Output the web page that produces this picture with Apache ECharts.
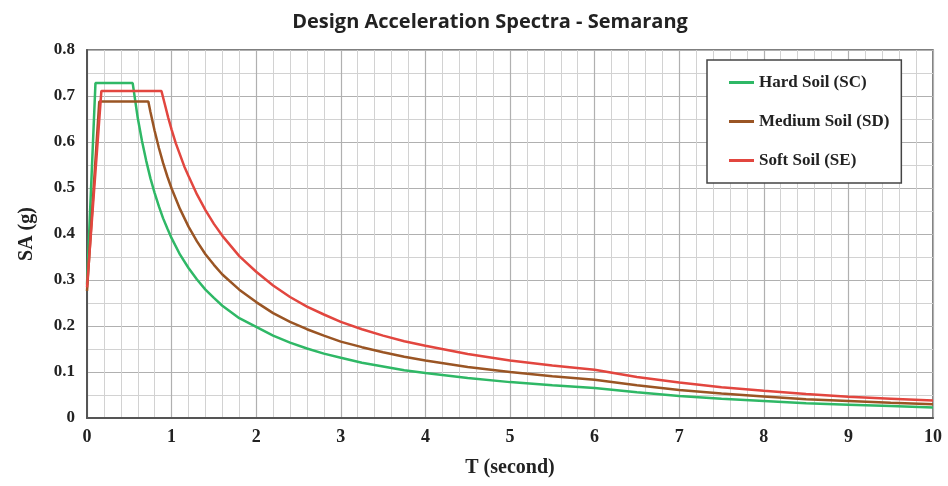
<!DOCTYPE html>
<html>
<head>
<meta charset="utf-8">
<script src="https://cdn.jsdelivr.net/npm/echarts@6/dist/echarts.min.js"></script>
<style>html,body{margin:0;padding:0;background:#fff}#c{width:948px;height:486px}</style>
</head>
<body>
<div id="c"></div>
<script>
var titleText = 'Design Acceleration Spectra - Semarang';
var xName = 'T (second)';
var yName = 'SA (g)';
var seriesNames = ['Hard Soil (SC)', 'Medium Soil (SD)', 'Soft Soil (SE)'];
var seriesColors = ['#2fb866', '#9a5524', '#e2463f'];

var tHard = [0, 0.1, 0.54, 0.6, 0.65, 0.7, 0.75, 0.8, 0.85, 0.9, 0.95, 1.0, 1.1, 1.2, 1.3, 1.4, 1.5, 1.6, 1.8, 2.0, 2.2, 2.4, 2.6, 2.8, 3.0, 3.25, 3.5, 3.75, 4.0, 4.5, 5.0, 5.5, 6.0, 6.5, 7.0, 7.5, 8.0, 8.5, 9.0, 9.5, 10];
var saHard = [0.29, 0.728, 0.728, 0.652, 0.602, 0.559, 0.521, 0.489, 0.460, 0.434, 0.412, 0.391, 0.355, 0.326, 0.301, 0.279, 0.261, 0.244, 0.217, 0.198, 0.179, 0.164, 0.151, 0.140, 0.131, 0.120, 0.112, 0.104, 0.098, 0.087, 0.078, 0.071, 0.065, 0.056, 0.048, 0.042, 0.037, 0.032, 0.029, 0.026, 0.023];

var tMed = [0, 0.145, 0.725, 0.75, 0.8, 0.85, 0.9, 0.95, 1.0, 1.1, 1.2, 1.3, 1.4, 1.5, 1.6, 1.8, 2.0, 2.2, 2.4, 2.6, 2.8, 3.0, 3.25, 3.5, 3.75, 4.0, 4.5, 5.0, 5.5, 6.0, 6.5, 7.0, 7.5, 8.0, 8.5, 9.0, 9.5, 10];
var saMed = [0.276, 0.688, 0.688, 0.665, 0.624, 0.587, 0.554, 0.525, 0.499, 0.454, 0.416, 0.384, 0.356, 0.333, 0.312, 0.279, 0.252, 0.228, 0.209, 0.193, 0.179, 0.166, 0.154, 0.143, 0.133, 0.125, 0.111, 0.100, 0.091, 0.083, 0.071, 0.061, 0.053, 0.047, 0.041, 0.037, 0.033, 0.030];

var tSoft = [0, 0.17, 0.88, 0.92, 0.96, 1.0, 1.05, 1.1, 1.15, 1.2, 1.3, 1.4, 1.5, 1.6, 1.8, 2.0, 2.2, 2.4, 2.6, 2.8, 3.0, 3.25, 3.5, 3.75, 4.0, 4.5, 5.0, 5.5, 6.0, 6.5, 7.0, 7.5, 8.0, 8.5, 9.0, 9.5, 10];
var saSoft = [0.284, 0.711, 0.711, 0.682, 0.653, 0.627, 0.597, 0.572, 0.547, 0.526, 0.486, 0.452, 0.422, 0.396, 0.352, 0.318, 0.288, 0.263, 0.242, 0.225, 0.209, 0.193, 0.179, 0.167, 0.157, 0.139, 0.125, 0.114, 0.105, 0.089, 0.077, 0.067, 0.059, 0.052, 0.046, 0.042, 0.038];

function pairs(xs, ys) { return xs.map(function (x, i) { return [x, ys[i]]; }); }

var serif = '"Liberation Serif", "DejaVu Serif", serif';
var chart = echarts.init(document.getElementById('c'));
var tList = [tHard, tMed, tSoft];
var sList = [saHard, saMed, saSoft];
chart.setOption({
  animation: false,
  backgroundColor: '#fff',
  title: {
    text: titleText,
    left: 485, top: 7, textAlign: 'center',
    textStyle: { fontFamily: '"Open Sans", sans-serif', fontWeight: 'bold', fontSize: 20, color: '#222' }
  },
  legend: {
    orient: 'vertical',
    left: 707, top: 60,
    padding: [14, 12, 14, 22],
    itemGap: 22,
    itemWidth: 25, itemHeight: 3,
    icon: 'rect',
    backgroundColor: '#fff',
    borderColor: '#444', borderWidth: 1.5,
    textStyle: { fontFamily: serif, fontWeight: 'bold', fontSize: 17, color: '#222' },
    data: seriesNames
  },
  grid: {
    left: 87, right: 15, top: 50, bottom: 68,
    show: true, borderColor: '#555', borderWidth: 1.5, backgroundColor: '#fff'
  },
  xAxis: {
    type: 'value', min: 0, max: 10, interval: 1,
    name: xName, nameLocation: 'middle', nameGap: 40,
    nameTextStyle: { fontFamily: serif, fontWeight: 'bold', fontSize: 20, color: '#222' },
    axisLine: { show: true, lineStyle: { color: '#555', width: 2 } },
    axisTick: { show: false },
    axisLabel: { fontFamily: serif, fontWeight: 'bold', fontSize: 18, color: '#222', margin: 10 },
    splitLine: { show: true, lineStyle: { color: '#b0b0b0', width: 1.2 } },
    minorTick: { show: false, splitNumber: 5 },
    minorSplitLine: { show: true, lineStyle: { color: '#d2d2d2', width: 1 } }
  },
  yAxis: {
    type: 'value', min: 0, max: 0.8, interval: 0.1,
    name: yName, nameLocation: 'middle', nameGap: 50, nameRotate: 90,
    nameTextStyle: { fontFamily: serif, fontWeight: 'bold', fontSize: 20, color: '#222' },
    axisLine: { show: true, lineStyle: { color: '#555', width: 2 } },
    axisTick: { show: false },
    axisLabel: { fontFamily: serif, fontWeight: 'bold', fontSize: 17, color: '#222', margin: 12,
      formatter: function (v) { return v === 0 ? '0' : v.toFixed(1); } },
    splitLine: { show: true, lineStyle: { color: '#b0b0b0', width: 1.2 } },
    minorTick: { show: false, splitNumber: 2 },
    minorSplitLine: { show: true, lineStyle: { color: '#d2d2d2', width: 1 } }
  },
  series: seriesNames.map(function (n, i) {
    return {
      name: n, type: 'line', data: pairs(tList[i], sList[i]),
      showSymbol: false, smooth: false,
      color: seriesColors[i],
      lineStyle: { color: seriesColors[i], width: 2.5 },
      z: 3 + i
    };
  })
});
</script>
</body>
</html>
